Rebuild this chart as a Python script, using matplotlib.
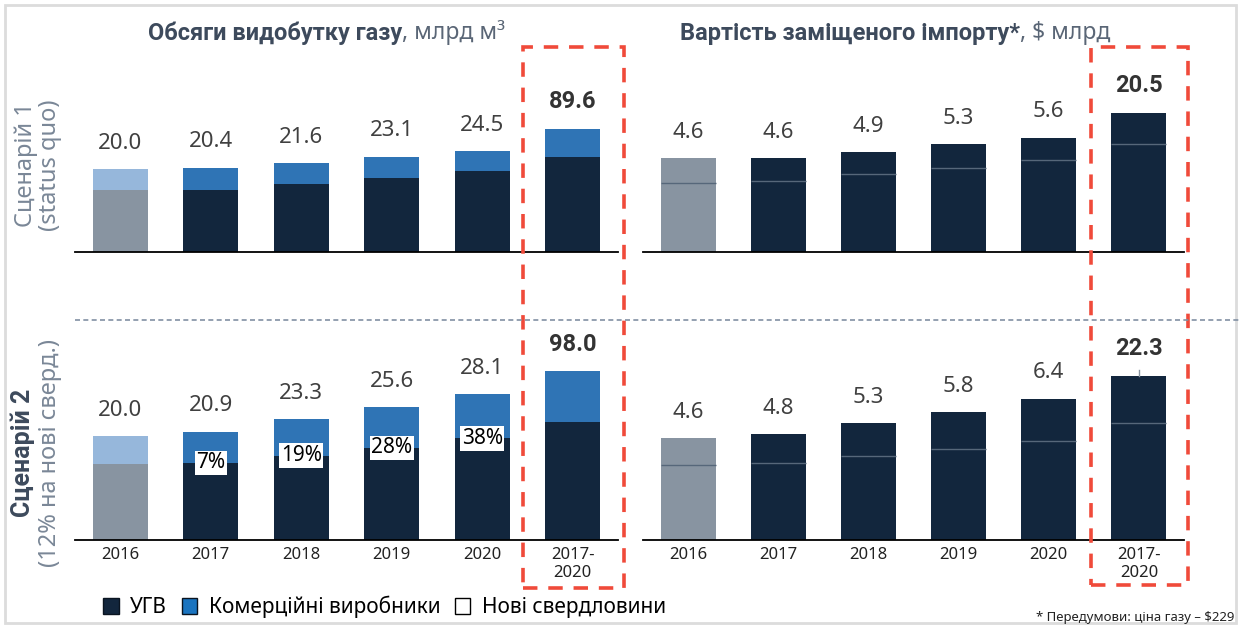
import numpy as np
import matplotlib.pyplot as plt
from matplotlib.patches import Rectangle, Patch
from matplotlib.lines import Line2D
from matplotlib.text import Annotation

plt.rcParams['font.family'] = ['Noto Sans', 'DejaVu Sans']
BOLD = ['Roboto', 'DejaVu Sans']

years = ['2016', '2017', '2018', '2019', '2020', '2017-\n2020']

# scenario 1 (status quo): gas volumes, bn m3
vol1_ugv = [14.9, 14.9, 16.5, 17.8, 19.6, 68.8]
vol1_comm = [5.1, 5.5, 5.1, 5.3, 4.9, 20.8]
vol1_total = [20.0, 20.4, 21.6, 23.1, 24.5, 89.6]

# scenario 2 (12% on new wells)
vol2_ugv = [14.6, 14.9, 16.3, 17.8, 19.6, 68.6]
vol2_comm = [5.4, 6.0, 7.0, 7.8, 8.5, 29.4]
vol2_total = [20.0, 20.9, 23.3, 25.6, 28.1, 98.0]
new_wells_share = [None, 7, 19, 28, 38, None]

# cost of replaced imports, $ bn
cost1_ugv = [3.4, 3.5, 3.8, 4.1, 4.5, 15.9]
cost1_comm = [1.2, 1.1, 1.1, 1.2, 1.1, 4.6]
cost1_total = [4.6, 4.6, 4.9, 5.3, 5.6, 20.5]

cost2_ugv = [3.4, 3.5, 3.8, 4.1, 4.5, 15.9]
cost2_comm = [1.2, 1.3, 1.5, 1.7, 1.9, 6.4]
cost2_total = [4.6, 4.8, 5.3, 5.8, 6.4, 22.3]

# the 2017-2020 sum bar is drawn at a compressed scale
disp = np.array([1, 1, 1, 1, 1, 1 / 3])

DARK = '#12263d'
BLUE = '#2f74b5'
GRAY = '#8894a1'
LIGHT = '#96b7db'
TXT = '#404040'

W, H = 1240, 628
fig = plt.figure(figsize=(W / 100, H / 100), dpi=100)


def px_axes(x0, x1, ytop, ybase):
    return fig.add_axes([x0 / W, 1 - ybase / H, (x1 - x0) / W, (ybase - ytop) / H])


def setup(ax, ymax, ticks):
    ax.set_xlim(-0.5, 5.5)
    ax.set_ylim(0, ymax)
    for s in ['top', 'right', 'left']:
        ax.spines[s].set_visible(False)
    ax.spines['bottom'].set_linewidth(1.3)
    ax.spines['bottom'].set_color('black')
    ax.set_yticks([])
    ax.patch.set_alpha(0)
    if ticks:
        ax.set_xticks(range(len(years)), years, fontsize=12, color='#222222')
        ax.tick_params(axis='x', length=0, pad=5)
    else:
        ax.set_xticks([])


def labels(ax, tops, totals):
    for i, (t, v) in enumerate(zip(tops, totals)):
        if i == len(tops) - 1:
            ax.annotate(f'{v:.1f}', (i, t), xytext=(0, 11), textcoords='offset points',
                        ha='center', va='bottom', fontsize=17, fontweight='bold',
                        family=BOLD, color='#333333')
        else:
            ax.annotate(f'{v:.1f}', (i, t), xytext=(0, 11), textcoords='offset points',
                        ha='center', va='bottom', fontsize=16, color=TXT)


def volume_panel(ax, ugv, comm, totals, share=None):
    x = np.arange(len(ugv))
    u = np.array(ugv) * disp
    c = np.array(comm) * disp
    ucol = [GRAY] + [DARK] * 5
    ccol = [LIGHT] + [BLUE] * 5
    ax.bar(x, u, width=0.61, color=ucol)
    ax.bar(x, c, width=0.61, bottom=u, color=ccol)
    labels(ax, u + c, totals)
    if share:
        for i, s in enumerate(share):
            if s is not None:
                ax.text(i, u[i], f'{s}%', ha='center', va='center', fontsize=15,
                        color='black',
                        bbox=dict(facecolor='white', edgecolor='none', pad=1.2))


def cost_panel(ax, ugv, comm, totals, tick=False):
    x = np.arange(len(ugv))
    u = np.array(ugv) * disp
    c = np.array(comm) * disp
    col = [GRAY] + [DARK] * 5
    ax.bar(x, u, width=0.61, color=col)
    ax.bar(x, c, width=0.61, bottom=u, color=col)
    ax.hlines(u, x - 0.305, x + 0.305, color='#56677a', lw=1)
    labels(ax, u + c, totals)
    if tick:
        top = u[-1] + c[-1]
        ax.plot([5, 5], [top, top + 0.25], color='#8894a1', lw=1, clip_on=False)


ax1 = px_axes(75, 618, 60, 252)
setup(ax1, 192 / 4.13, False)
volume_panel(ax1, vol1_ugv, vol1_comm, vol1_total)

ax2 = px_axes(643, 1184, 60, 252)
setup(ax2, 192 / 20.4, False)
cost_panel(ax2, cost1_ugv, cost1_comm, cost1_total)

ax3 = px_axes(75, 618, 330, 540)
setup(ax3, 210 / 5.18, True)
volume_panel(ax3, vol2_ugv, vol2_comm, vol2_total, new_wells_share)

ax4 = px_axes(643, 1184, 330, 540)
setup(ax4, 210 / 22.1, True)
cost_panel(ax4, cost2_ugv, cost2_comm, cost2_total, tick=True)

# titles
TITLE = '#3d4a5c'
t1 = fig.text(148 / W, 1 - 40 / H, 'Обсяги видобутку газу', fontsize=17,
              fontweight='bold', family=BOLD, color=TITLE, va='baseline')
fig.add_artist(Annotation(', млрд м³', xy=(1, 0), xycoords=t1, va='bottom',
                          fontsize=16.5, color='#5a6676'))
t2 = fig.text(680 / W, 1 - 40 / H, 'Вартість заміщеного імпорту*', fontsize=17,
              fontweight='bold', family=BOLD, color=TITLE, va='baseline')
fig.add_artist(Annotation(', $ млрд', xy=(1, 0), xycoords=t2, va='bottom',
                          fontsize=16.5, color='#5a6676'))

# scenario labels
fig.text(26 / W, 1 - 165 / H, 'Сценарій 1', rotation=90, fontsize=17,
         color='#7a8797', ha='center', va='center')
fig.text(50 / W, 1 - 165 / H, '(status quo)', rotation=90, fontsize=17,
         color='#7a8797', ha='center', va='center')
fig.text(23 / W, 1 - 453 / H, 'Сценарій 2', rotation=90, fontsize=18,
         fontweight='bold', family=BOLD, color=TITLE, ha='center', va='center')
fig.text(50 / W, 1 - 453 / H, '(12% на нові сверд.)', rotation=90, fontsize=17,
         color='#7a8797', ha='center', va='center')

# separator and frames
fig.add_artist(Line2D([75 / W, 1], [1 - 320 / H] * 2, color='#8190a3', lw=1.2,
                      ls=(0, (3, 2))))
for x0, x1, y0, y1 in [(523, 624, 47, 588), (1091, 1188, 47, 585)]:
    fig.add_artist(Rectangle((x0 / W, 1 - y1 / H), (x1 - x0) / W, (y1 - y0) / H,
                             fill=False, edgecolor='#f04a3a', lw=2.6,
                             ls=(0, (4, 3))))
fig.add_artist(Rectangle((5 / W, 5 / H), 1231 / W, 618 / H, fill=False,
                         edgecolor='#dcdcdc', lw=2))

handles = [Patch(facecolor=DARK, edgecolor='#0a1420', label='УГВ'),
           Patch(facecolor='#1a74c0', edgecolor='#0a1420', label='Комерційні виробники'),
           Patch(facecolor='white', edgecolor='black', label='Нові свердловини')]
fig.legend(handles=handles, loc='center left', bbox_to_anchor=(103 / W, 1 - 607 / H),
           ncol=3, frameon=False, fontsize=15, handlelength=0.75, handleheight=0.75,
           handletextpad=0.55, columnspacing=0.7, borderaxespad=0, borderpad=0)

fig.text(1234 / W, 1 - 618 / H, '* Передумови: ціна газу – $229', fontsize=9.5,
         color='#222222', ha='right', va='center')

fig.savefig('out.png', dpi=100)
